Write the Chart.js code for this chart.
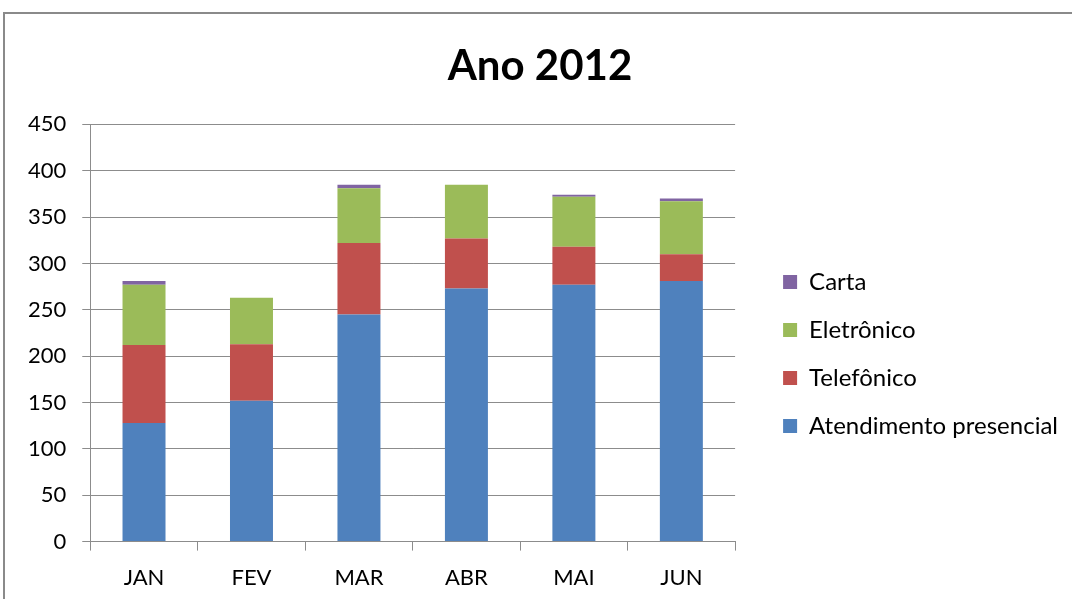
<!DOCTYPE html>
<html>
<head>
<meta charset="utf-8">
<script src="https://cdn.jsdelivr.net/npm/chart.js@4"></script>
<style>
  html, body { margin: 0; padding: 0; background: #fff; overflow: hidden; font-family: Lato; }
  #frame { position: absolute; left: 3px; top: 12px; width: 1090px; height: 600px; border: 2px solid #8a8a8a; box-sizing: border-box; }
  #wrap { position: absolute; left: 0; top: 0; width: 1072px; height: 599px; }
</style>
</head>
<body>
<div id="frame"></div>
<div id="wrap"><canvas id="c" width="1072" height="599"></canvas></div>
<script>
const categories = ["JAN", "FEV", "MAR", "ABR", "MAI", "JUN"];
const presencial = [128, 152, 245, 273, 277, 281];
const telefonico = [84, 61, 77, 54, 41, 29];
const eletronico = [65, 50, 59, 58, 54, 57];
const carta = [4, 0, 4, 0, 2, 3];
const yTicks = [0, 50, 100, 150, 200, 250, 300, 350, 400, 450];

const FONT = "Lato, 'Open Sans', sans-serif";
const gridColor = "#8c8c8c";

function draw() {
  new Chart(document.getElementById("c"), {
    type: "bar",
    data: {
      labels: categories,
      datasets: [
        { label: "Atendimento presencial", data: presencial, backgroundColor: "#4F81BD" },
        { label: "Telefônico", data: telefonico, backgroundColor: "#C0504D" },
        { label: "Eletrônico", data: eletronico, backgroundColor: "#9BBB59" },
        { label: "Carta", data: carta, backgroundColor: "#8064A2" }
      ]
    },
    options: {
      responsive: false,
      animation: false,
      devicePixelRatio: 1,
      datasets: { bar: { barPercentage: 0.8, categoryPercentage: 0.5 } },
      layout: { padding: { left: 12, right: 4, top: 0, bottom: -6 } },
      plugins: {
        title: {
          display: true,
          text: "Ano 2012",
          color: "#000",
          font: { family: FONT, size: 42, weight: "bold" },
          padding: { top: 41, bottom: 33 }
        },
        legend: {
          position: "right",
          fullSize: false,
          reverse: true,
          maxWidth: 400,
          title: { display: true, text: "", font: { size: 10 }, padding: { top: 30, bottom: 0 } },
          labels: {
            color: "#000",
            font: { family: FONT, size: 24 },
            boxWidth: 14,
            boxHeight: 14,
            padding: 24
          }
        },
        tooltip: { enabled: false }
      },
      scales: {
        x: {
          stacked: true,
          grid: { display: true, drawOnChartArea: false, drawTicks: true, tickLength: 9, color: gridColor, offset: true },
          border: { display: true, color: gridColor, width: 1 },
          ticks: { color: "#000", font: { family: FONT, size: 22 }, padding: 14 }
        },
        y: {
          stacked: true,
          min: 0,
          max: 450,
          afterBuildTicks: (axis) => { axis.ticks = yTicks.map(v => ({ value: v })); },
          grid: { color: gridColor, lineWidth: 1, tickLength: 8 },
          border: { display: true, color: gridColor, width: 1 },
          ticks: { color: "#000", font: { family: FONT, size: 22 }, padding: 16 }
        },
        gap: {
          position: "right",
          display: true,
          min: 0,
          max: 450,
          grid: { display: false, drawTicks: false },
          border: { display: false },
          ticks: { display: false },
          afterFit: (s) => { s.width = 24; }
        }
      }
    }
  });
}

Promise.all([
  document.fonts.load("24px Lato"),
  document.fonts.load("bold 42px Lato")
]).then(draw, draw);
</script>
</body>
</html>
